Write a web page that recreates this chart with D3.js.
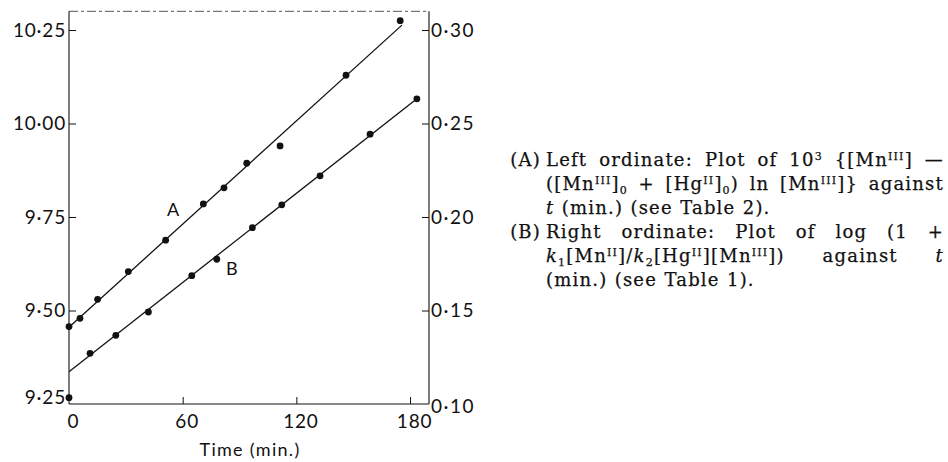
<!DOCTYPE html>
<html><head><meta charset="utf-8">
<script src="https://cdn.jsdelivr.net/npm/d3@7"></script>
<style>html,body{margin:0;padding:0;background:#fff;} svg{display:block;}</style>
</head><body>
<svg id="chart" width="948" height="462"></svg>
<script>
// ---- Data ----
// Series A (left ordinate): 10^3{[Mn(III)] - ([Mn(III)]0 + [Hg(II)]0) ln [Mn(III)]} vs t
const timeA  = [0, 5.8, 15.1, 31.3, 51.0, 70.9, 81.8, 93.8, 111.4, 146.2, 174.8];
const valueA = [9.457, 9.479, 9.530, 9.604, 9.688, 9.785, 9.828, 9.894, 9.940, 10.129, 10.275];
// Series B (right ordinate): log(1 + k1[Mn(II)]/k2[Hg(II)][Mn(III)]) vs t
const timeB  = [0, 11.1, 24.7, 41.9, 64.8, 78.0, 96.8, 112.3, 132.5, 158.9, 183.6];
const valueB = [0.1034, 0.1271, 0.1367, 0.1492, 0.1686, 0.1774, 0.1943, 0.2065, 0.2220, 0.2443, 0.2632];
// Fitted straight lines (end points)
const fitTimeA  = [0, 175.7];
const fitValueA = [9.455, 10.263];
const fitTimeB  = [0, 183.6];
const fitValueB = [0.1173, 0.2632];
// Axes
const xDomain = [0, 190];
const xTicks = [0, 60, 120, 180];
const xTickLabels = ["0", "60", "120", "180"];
const leftDomain = [9.25, 10.30];
const leftTicks = [9.25, 9.50, 9.75, 10.00, 10.25];
const leftTickLabels = ["9·25", "9·50", "9·75", "10·00", "10·25"];
const rightDomain = [0.10, 0.31];
const rightTicks = [0.10, 0.15, 0.20, 0.25, 0.30];
const rightTickLabels = ["0·10", "0·15", "0·20", "0·25", "0·30"];
const xTitle = "Time (min.)";
const seriesLabels = ["A", "B"];
// Caption
const captionLines = [
  {label: "(A)", words: ["Left", "ordinate:", "Plot", "of", "10^{3}", "{[Mn^{III}]", "—"], justify: true},
  {words: ["([Mn^{III}]_{0}", "+", "[Hg^{II}]_{0})", "ln", "[Mn^{III}]}", "against"], justify: true},
  {words: ["*t*", "(min.)", "(see", "Table", "2)."], justify: false},
  {label: "(B)", words: ["Right", "ordinate:", "Plot", "of", "log", "(1", "+"], justify: true},
  {words: ["*k*_{1}[Mn^{II}]/*k*_{2}[Hg^{II}][Mn^{III}])", "against", "*t*"], justify: true},
  {words: ["(min.)", "(see", "Table", "1)."], justify: false}
];

// ---- Layout ----
const svg = d3.select("#chart");
const L = 69, R = 429, T = 11.3, B = 404;
const x = d3.scaleLinear().domain(xDomain).range([L, R]);
const yL = d3.scaleLinear().domain(leftDomain).range([B, T]);
const yR = d3.scaleLinear().domain(rightDomain).range([B, T]);
const tickFont = "Lato, 'Noto Sans', sans-serif";

// Frame (top edge)
svg.append("line").attr("x1", L).attr("x2", R).attr("y1", T).attr("y2", T)
  .attr("stroke", "#555").attr("stroke-width", 1).attr("stroke-dasharray", "9 3 3 3");

const axL = svg.append("g").attr("transform", `translate(${L},0)`)
  .call(d3.axisLeft(yL).tickValues(leftTicks).tickFormat((d, i) => leftTickLabels[i])
    .tickSizeInner(-7).tickSizeOuter(0).tickPadding(3));
const axR = svg.append("g").attr("transform", `translate(${R},0)`)
  .call(d3.axisRight(yR).tickValues(rightTicks).tickFormat((d, i) => rightTickLabels[i])
    .tickSizeInner(-7).tickSizeOuter(0).tickPadding(2));
const axB = svg.append("g").attr("transform", `translate(0,${B})`)
  .call(d3.axisBottom(x).tickValues(xTicks).tickFormat((d, i) => xTickLabels[i])
    .tickSizeInner(-7).tickSizeOuter(0).tickPadding(11));

[axL, axR, axB].forEach(g => {
  g.select(".domain").attr("stroke", "#111").attr("stroke-width", 1.1);
  g.selectAll(".tick line").attr("stroke", "#111").attr("stroke-width", 1);
  g.selectAll(".tick text").attr("font-family", tickFont).attr("font-size", 19)
    .attr("letter-spacing", 0.8).attr("fill", "#111");
});
axR.selectAll(".tick text").attr("letter-spacing", 1.5);
axL.select(".domain").attr("d", `M0,${B}V${T}`);
axR.select(".domain").attr("d", `M0,${B}V${T}`);
axB.select(".domain").attr("d", `M${L},0H${R}`);
axB.selectAll(".tick line").filter(d => d === 0).remove();
axL.selectAll(".tick line").filter(d => d === leftTicks[0]).remove();
axR.selectAll(".tick line").filter(d => d === rightTicks[0]).remove();
axB.selectAll(".tick text").attr("dx", 4);
axL.selectAll(".tick text").filter(d => d === leftTicks[0]).attr("dy", "-0.05em");
axR.selectAll(".tick text").filter(d => d === rightTicks[0]).attr("dy", "0.45em");

svg.append("text").attr("x", 250).attr("y", 456).attr("text-anchor", "middle")
  .attr("font-family", tickFont).attr("font-size", 18).attr("letter-spacing", 1.3)
  .attr("fill", "#111").text(xTitle);

// Fitted lines
const lineA = d3.line().x(d => x(d[0])).y(d => yL(d[1]));
const lineB = d3.line().x(d => x(d[0])).y(d => yR(d[1]));
svg.append("path").datum(fitTimeA.map((t, i) => [t, fitValueA[i]]))
  .attr("d", lineA).attr("stroke", "#111").attr("stroke-width", 1.3).attr("fill", "none");
svg.append("path").datum(fitTimeB.map((t, i) => [t, fitValueB[i]]))
  .attr("d", lineB).attr("stroke", "#111").attr("stroke-width", 1.3).attr("fill", "none");

// Points
svg.append("g").selectAll("circle").data(timeA.map((t, i) => [t, valueA[i]])).join("circle")
  .attr("cx", d => x(d[0])).attr("cy", d => yL(d[1])).attr("r", 3.4).attr("fill", "#111");
svg.append("g").selectAll("circle").data(timeB.map((t, i) => [t, valueB[i]])).join("circle")
  .attr("cx", d => x(d[0])).attr("cy", d => yR(d[1])).attr("r", 3.4).attr("fill", "#111");

// Series labels
svg.append("text").attr("x", x(54.9)).attr("y", yL(9.771)).attr("dy", "0.36em")
  .attr("text-anchor", "middle").attr("font-family", tickFont).attr("font-size", 18)
  .attr("fill", "#111").text(seriesLabels[0]);
svg.append("text").attr("x", x(85.9)).attr("y", yR(0.1726)).attr("dy", "0.36em")
  .attr("text-anchor", "middle").attr("font-family", tickFont).attr("font-size", 18)
  .attr("fill", "#111").text(seriesLabels[1]);

// ---- Caption ----
const capFont = "'DejaVu Serif', serif";
const capSize = 18, capSmall = 11, capLS = 1.2;
const capX0 = 546, capX1 = 944;
const capBase = 166, capLead = 24;

function parseRich(str) {
  const segs = [];
  let italic = false, buf = "";
  const flush = () => { if (buf) { segs.push({t: buf, i: italic}); buf = ""; } };
  for (let k = 0; k < str.length; k++) {
    const c = str[k];
    if ((c === "^" || c === "_") && str[k + 1] === "{") {
      flush();
      const end = str.indexOf("}", k + 2);
      segs.push({t: str.slice(k + 2, end), i: italic, pos: c === "^" ? "sup" : "sub"});
      k = end;
    } else if (c === "*") {
      flush(); italic = !italic;
    } else buf += c;
  }
  flush();
  return segs;
}

function styleCap(t) {
  return t.attr("font-family", capFont).attr("font-size", capSize)
    .attr("letter-spacing", capLS).attr("fill", "#111")
    .attr("stroke", "#111").attr("stroke-width", 0.25);
}

function addWord(g, str, y) {
  const t = styleCap(g.append("text").attr("y", y));
  let off = 0;
  parseRich(str).forEach(s => {
    const target = s.pos === "sup" ? -6.5 : s.pos === "sub" ? 4 : 0;
    const ts = t.append("tspan").text(s.t).attr("dy", target - off);
    off = target;
    if (s.pos) ts.attr("font-size", capSmall);
    if (s.i) ts.attr("font-style", "italic");
  });
  return t;
}

const capG = svg.append("g");
captionLines.forEach((ln, li) => {
  const y = capBase + li * capLead;
  if (ln.label) {
    styleCap(capG.append("text").attr("x", capX0 - 5).attr("y", y).attr("text-anchor", "end"))
      .text(ln.label);
  }
  const nodes = ln.words.map(w => addWord(capG, w, y));
  const widths = nodes.map(n => n.node().getComputedTextLength());
  const total = d3.sum(widths);
  const gap = ln.justify ? (capX1 - capX0 - total) / (nodes.length - 1) : capSize * 0.34 + capLS;
  let cx = capX0;
  nodes.forEach((n, i) => { n.attr("x", cx); cx += widths[i] + gap; });
});
</script>
</body></html>
